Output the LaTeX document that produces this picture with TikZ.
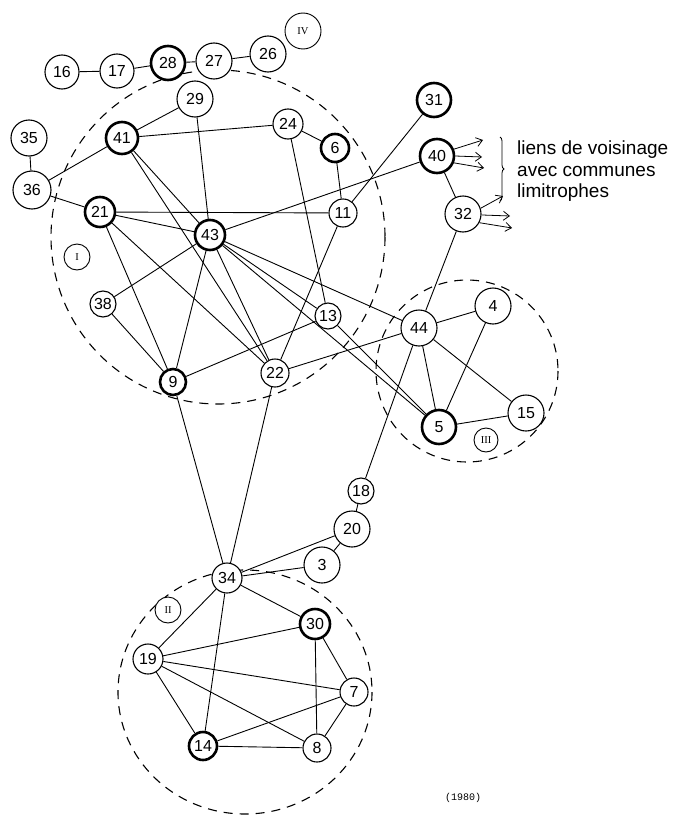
\documentclass[tikz,border=0pt]{standalone}
\usepackage{fontspec}
\setmainfont{Liberation Sans}
\newfontfamily\numfont{Liberation Sans}
\newfontfamily\romfont{Liberation Serif}
\newfontfamily\typfont{Liberation Mono}
\usetikzlibrary{arrows.meta,decorations.pathreplacing}
\begin{document}
\begin{tikzpicture}[x=1pt,y=-1pt,
  nd/.style={circle, draw, fill=white, line width=1.1pt, inner sep=0pt, minimum size=#1,
    font=\numfont\fontsize{16}{18}\selectfont},
  nd/.default=30,
  thk/.style={line width=2.6pt},
  rom/.style={circle, draw, fill=white, line width=0.9pt, inner sep=0pt, minimum size=#1,
    font=\romfont\fontsize{10.5}{12}\selectfont},
  lnk/.style={line width=0.9pt},
  grp/.style={dash pattern=on 9pt off 7pt, line width=1.1pt},
  arr/.style={line width=0.8pt, -{Straight Barb[length=6pt,width=9pt]}}
]
\useasboundingbox (0,0) rectangle (672,816);

% group boundaries
\draw[grp] (218,237) circle[radius=167];
\draw[grp] (467,371) circle[radius=91];
\draw[grp] (245,692) ellipse[x radius=127, y radius=122];

% nodes
\node[nd=34] (n16) at (62,72) {16};
\node[nd=34] (n17) at (117,71) {17};
\node[nd=34,thk] (n28) at (168,63) {28};
\node[nd=36] (n27) at (214,61) {27};
\node[nd=36] (n26) at (268,54) {26};
\node[rom=36] (rIV) at (303,31) {IV};
\node[nd=36] (n29) at (195,99) {29};
\node[nd=30] (n24) at (288,124) {24};
\node[nd=28,thk] (n6) at (335,148) {6};
\node[nd=36] (n35) at (29,138) {35};
\node[nd=38] (n36) at (32,190) {36};
\node[nd=32,thk] (n41) at (122,138) {41};
\node[nd=30,thk] (n21) at (100,212) {21};
\node[nd=30,thk] (n43) at (210,235) {43};
\node[rom=26] (rI) at (77,257) {I};
\node[nd=26] (n38) at (103,304) {38};
\node[nd=26,thk] (n9) at (173,382) {9};
\node[nd=28] (n22) at (275,373) {22};
\node[nd=26] (n13) at (328,316) {13};
\node[nd=28] (n11) at (343,213) {11};
\node[nd=34,thk] (n31) at (434,100) {31};
\node[nd=34,thk] (n40) at (437,156) {40};
\node[nd=36] (n32) at (463,214) {32};
\node[nd=36] (n44) at (419,328) {44};
\node[nd=36] (n4) at (493,306) {4};
\node[nd=34,thk] (n5) at (439,427) {5};
\node[nd=36] (n15) at (526,413) {15};
\node[rom=24] (rIII) at (486,440) {III};
\node[nd=26] (n18) at (361,491) {18};
\node[nd=36] (n20) at (352,529) {20};
\node[nd=36] (n3) at (322,565) {3};
\node[nd=30] (n34) at (227,578) {34};
\node[rom=26] (rII) at (168,610) {II};
\node[nd=30,thk] (n30) at (315,624) {30};
\node[nd=30] (n19) at (148,659) {19};
\node[nd=28] (n7) at (354,692) {7};
\node[nd=28,thk] (n14) at (203,746) {14};
\node[nd=28] (n8) at (317,748) {8};

% links
\draw[lnk] (n16) -- (n17);
\draw[lnk] (n17) -- (n28);
\draw[lnk] (n28) -- (n27);
\draw[lnk] (n27) -- (n26);
\draw[lnk] (n29) -- (n41);
\draw[lnk] (n29) -- (n43);
\draw[lnk] (n41) -- (n24);
\draw[lnk] (n41) -- (n36);
\draw[lnk] (n41) -- (n43);
\draw[lnk] (n41) -- (n22);
\draw[lnk] (n36) -- (n35);
\draw[lnk] (n36) -- (n21);
\draw[lnk] (n21) -- (n11);
\draw[lnk] (n21) -- (n43);
\draw[lnk] (n21) -- (n9);
\draw[lnk] (n21) -- (n22);
\draw[lnk] (n43) -- (n40);
\draw[lnk] (n43) -- (n38);
\draw[lnk] (n43) -- (n9);
\draw[lnk] (n43) -- (n22);
\draw[lnk] (n43) -- (n13);
\draw[lnk] (n43) -- (n44);
\draw[lnk] (n43) -- (n5);
\draw[lnk] (n24) -- (n6);
\draw[lnk] (n24) -- (n13);
\draw[lnk] (n6) -- (n11);
\draw[lnk] (n11) -- (n31);
\draw[lnk] (n11) -- (n22);
\draw[lnk] (n40) -- (n32);
\draw[lnk] (n32) -- (n44);
\draw[lnk] (n44) -- (n4);
\draw[lnk] (n44) -- (n5);
\draw[lnk] (n44) -- (n15);
\draw[lnk] (n44) -- (n18);
\draw[lnk] (n44) -- (n22);
\draw[lnk] (n9) -- (n13);
\draw[lnk] (n38) -- (n9);
\draw[lnk] (n13) -- (n5);
\draw[lnk] (n4) -- (n5);
\draw[lnk] (n5) -- (n15);
\draw[lnk] (n9) -- (n34);
\draw[lnk] (n22) -- (n34);
\draw[lnk] (n18) -- (n20);
\draw[lnk] (n20) -- (n34);
\draw[lnk] (n20) -- (n3);
\draw[lnk] (n3) -- (n34);
\draw[lnk] (n34) -- (n19);
\draw[lnk] (n34) -- (n14);
\draw[lnk] (n34) -- (n30);
\draw[lnk] (n30) -- (n19);
\draw[lnk] (n30) -- (n8);
\draw[lnk] (n30) -- (n7);
\draw[lnk] (n19) -- (n7);
\draw[lnk] (n19) -- (n8);
\draw[lnk] (n19) -- (n14);
\draw[lnk] (n14) -- (n7);
\draw[lnk] (n14) -- (n8);
\draw[lnk] (n8) -- (n7);

% links to neighbouring communes
\coordinate (a1) at (483,140);
\coordinate (a2) at (482,157);
\coordinate (a3) at (484,168);
\coordinate (b1) at (503,196);
\coordinate (b2) at (510,216);
\coordinate (b3) at (512,228);
\draw[arr] (n40.22) -- (a1);
\draw[arr] (n40.0) -- (a2);
\draw[arr] (n40.-22) -- (a3);
\draw[arr] (n32.18) -- (b1);
\draw[arr] (n32.-3) -- (b2);
\draw[arr] (n32.-28) -- (b3);

\coordinate (br1) at (500,137);
\coordinate (br2) at (500,201);
\draw[line width=0.8pt, decorate, decoration={brace, amplitude=4pt}] (br1) -- (br2);

\node[anchor=north west, align=left, inner sep=0pt,
  font=\fontsize{19}{21.5}\selectfont] (lab) at (517,141)
  {liens de voisinage\\avec communes\\limitrophes};

\node[font=\typfont\fontsize{10}{12}\selectfont] (yr) at (463,798) {(1980)};
\end{tikzpicture}
\end{document}
